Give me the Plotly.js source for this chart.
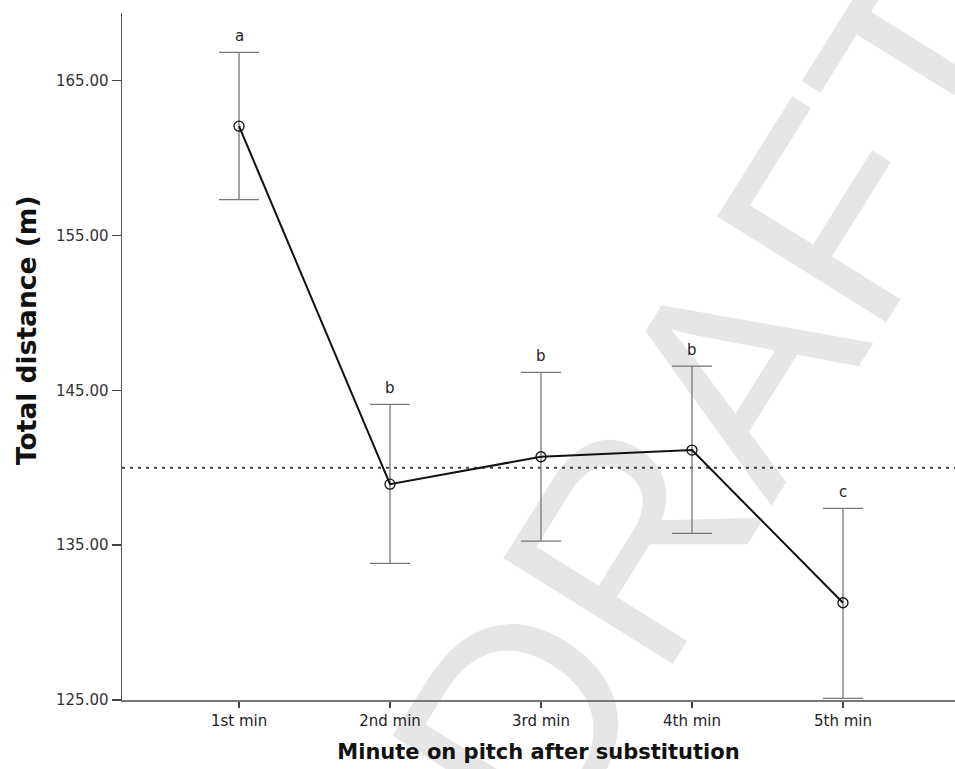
<!DOCTYPE html>
<html>
<head>
<meta charset="utf-8">
<script src="https://cdn.plot.ly/plotly-3.0.1.min.js"></script>
<style>
  html, body { margin: 0; padding: 0; background: #ffffff; }
  #chart { width: 955px; height: 769px; }
</style>
</head>
<body>
<div id="chart"></div>
<script>
// Mean total distance per minute after substitution, with 95% CI bounds
const minutes = ['1st min', '2nd min', '3rd min', '4th min', '5th min'];
const meanDistance = [162.06, 138.94, 140.71, 141.14, 131.28];
const upperCI = [166.83, 144.09, 146.16, 146.56, 137.38];
const lowerCI = [157.32, 133.83, 135.26, 135.76, 125.11];
const groupLetters = ['a', 'b', 'b', 'b', 'c'];
const referenceLine = 140.0;
const yTicks = [125, 135, 145, 155, 165];

const errPlus = upperCI.map((u, i) => u - meanDistance[i]);
const errMinus = lowerCI.map((l, i) => meanDistance[i] - l);

const trace = {
  type: 'scatter',
  mode: 'lines+markers',
  x: minutes,
  y: meanDistance,
  line: { color: '#111111', width: 2 },
  marker: {
    symbol: 'circle-open',
    size: 10,
    color: '#111111',
    line: { color: '#111111', width: 1.3 }
  },
  error_y: {
    type: 'data',
    symmetric: false,
    array: errPlus,
    arrayminus: errMinus,
    color: '#777777',
    thickness: 1.3,
    width: 20
  },
  hoverinfo: 'skip',
  showlegend: false
};

const letterNotes = minutes.map((m, i) => ({
  x: m,
  y: upperCI[i],
  xref: 'x',
  yref: 'y',
  text: groupLetters[i],
  showarrow: false,
  yanchor: 'middle',
  yshift: 16,
  font: { family: 'DejaVu Sans', size: 15, color: '#222222' }
}));

// y-axis title, placed as a rotated note left of the tick labels
const yTitleNote = {
  xref: 'paper', yref: 'paper',
  x: -0.114, y: 0.5386,
  xanchor: 'center', yanchor: 'middle',
  text: 'Total distance (m)',
  textangle: -90,
  showarrow: false,
  font: { family: 'DejaVu Sans', size: 26.5, color: '#111111', weight: 'bold' }
};

const layout = {
  width: 955,
  height: 769,
  margin: { l: 122, r: 0, t: 13, b: 69 },
  paper_bgcolor: '#ffffff',
  plot_bgcolor: '#ffffff',
  font: { family: 'DejaVu Sans', color: '#222222' },
  showlegend: false,
  xaxis: {
    type: 'category',
    range: [-0.775, 4.742],
    showgrid: false,
    zeroline: false,
    showline: true,
    linecolor: '#777777',
    linewidth: 2,
    ticks: 'outside',
    ticklen: 6,
    tickwidth: 1.3,
    tickcolor: '#444444',
    tickfont: { family: 'DejaVu Sans', size: 15, color: '#222222' },
    title: {
      text: 'Minute on pitch after substitution',
      font: { family: 'DejaVu Sans', size: 21, color: '#111111', weight: 'bold' },
      standoff: 15
    }
  },
  yaxis: {
    range: [125, 169.37],
    tickvals: yTicks,
    ticktext: yTicks.map(v => v.toFixed(2)),
    showgrid: false,
    zeroline: false,
    showline: true,
    linecolor: '#555555',
    linewidth: 1.5,
    ticks: 'outside',
    ticklen: 9,
    tickwidth: 1.5,
    tickcolor: '#444444',
    tickfont: { family: 'DejaVu Sans', size: 15, color: '#333333' }
  },
  shapes: [
    {
      // light watermark behind the data
      type: 'rect',
      xref: 'paper', yref: 'paper',
      x0: 0.68, x1: 0.70, y0: 0.45, y1: 0.47,
      line: { width: 0 },
      fillcolor: 'rgba(0,0,0,0)',
      layer: 'below',
      label: {
        text: 'DRAFT',
        textangle: -58,
        textposition: 'middle center',
        font: { family: 'Liberation Sans', size: 290, color: '#e6e6e6' }
      }
    },
    {
      type: 'line',
      xref: 'paper', yref: 'y',
      x0: 0, x1: 1, y0: referenceLine, y1: referenceLine,
      line: { color: '#444444', width: 2, dash: '3px,5px' },
      layer: 'below'
    }
  ],
  annotations: letterNotes.concat([yTitleNote])
};

Plotly.newPlot('chart', [trace], layout, { displayModeBar: false, staticPlot: true });
</script>
</body>
</html>
